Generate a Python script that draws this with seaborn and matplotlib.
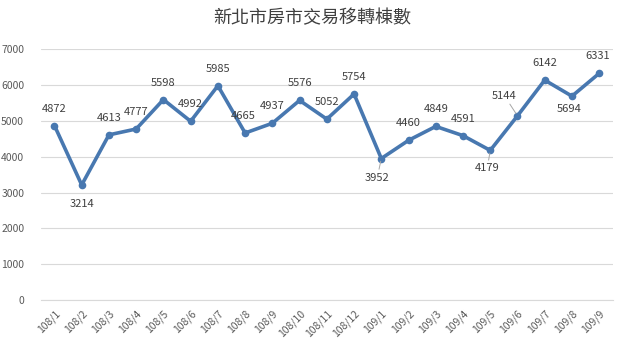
import matplotlib
matplotlib.use("Agg")
import matplotlib.pyplot as plt
import seaborn as sns
import pandas as pd

months = ["108/1", "108/2", "108/3", "108/4", "108/5", "108/6", "108/7", "108/8", "108/9",
          "108/10", "108/11", "108/12", "109/1", "109/2", "109/3", "109/4", "109/5",
          "109/6", "109/7", "109/8", "109/9"]
transfers = [4872, 3214, 4613, 4777, 5598, 4992, 5985, 4665, 4937, 5576, 5052, 5754,
             3952, 4460, 4849, 4591, 4179, 5144, 6142, 5694, 6331]
title = "新北市房市交易移轉棟數"

# label placement (pixel offsets from point), leader line flag
label_offsets = {1: (0, -19), 12: (-4, -19), 16: (-3, -18), 19: (-3, -13), 17: (-13, 20),
                 7: (-2, 17), 20: (-2, 17)}
leaders = {12, 16, 17}

sns.set_style("white")
plt.rcParams["font.family"] = ["Noto Sans CJK TC", "DejaVu Sans"]

df = pd.DataFrame({"month": months, "value": transfers})
df["pos"] = range(len(df))

fig = plt.figure(figsize=(6.19, 3.48), dpi=100)
ax = fig.add_axes([0.066, 0.138, 0.924, 0.720])

line_color = "#4878b0"
sns.lineplot(data=df, x="pos", y="value", ax=ax, color=line_color, linewidth=2.6,
             marker="o", markersize=5.5, markeredgewidth=0, zorder=3)

for i, v in enumerate(transfers):
    dx, dy = label_offsets.get(i, (0, 17))
    kw = {}
    if i in leaders:
        kw["arrowprops"] = dict(arrowstyle="-", color="#a6a6a6", lw=0.7, shrinkA=0, shrinkB=2)
    ax.annotate(str(v), (i, v), xytext=(dx, dy), textcoords="offset pixels",
                ha="center", va="center", fontsize=8, color="#404040", **kw)

ax.set_xlim(-0.5, len(months) - 0.5)
ax.set_ylim(0, 7000)
ax.set_yticks(range(0, 7001, 1000))
ax.set_xticks(range(len(months)))
ax.set_xticklabels(months, rotation=45, ha="right", rotation_mode="anchor")
ax.tick_params(axis="both", length=0, labelsize=7.5, labelcolor="#595959")
ax.tick_params(axis="x", pad=6)
ax.tick_params(axis="y", pad=12)
ax.grid(axis="y", color="#d9d9d9", linewidth=0.8)
ax.set_axisbelow(True)
for s in ["top", "right", "left"]:
    ax.spines[s].set_visible(False)
ax.spines["bottom"].set_color("#d9d9d9")
ax.set_xlabel("")
ax.set_ylabel("")

fig.text(0.505, 0.948, title, ha="center", va="center", fontsize=13, color="#404040")

fig.savefig("out.png", dpi=100)
